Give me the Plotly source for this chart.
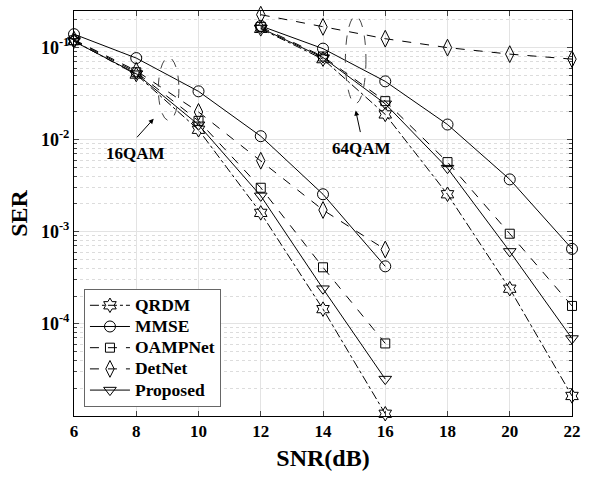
import math
import plotly.graph_objects as go

snr16 = [6, 8, 10, 12, 14, 16]
snr64 = [12, 14, 16, 18, 20, 22]

qrdm16 = [0.118, 0.051, 0.0128, 0.00160, 0.000144, 0.0000105]
mmse16 = [0.140, 0.077, 0.0335, 0.0109, 0.00255, 0.00042]
oamp16 = [0.120, 0.054, 0.0160, 0.00300, 0.00041, 0.000061]
detnet16 = [0.122, 0.056, 0.0200, 0.00590, 0.00172, 0.00064]
prop16 = [0.117, 0.052, 0.0145, 0.00245, 0.00024, 0.000025]

qrdm64 = [0.160, 0.075, 0.0188, 0.00255, 0.00024, 0.0000164]
mmse64 = [0.172, 0.0975, 0.043, 0.0146, 0.0037, 0.00065]
oamp64 = [0.168, 0.080, 0.0262, 0.0057, 0.00095, 0.000156]
detnet64 = [0.228, 0.168, 0.125, 0.100, 0.085, 0.075]
prop64 = [0.163, 0.078, 0.0245, 0.0049, 0.00061, 0.000069]

names = ["QRDM", "MMSE", "OAMPNet", "DetNet", "Proposed"]
ytickvals = [1e-4, 1e-3, 1e-2, 1e-1]
yticktext = ["10<sup>-4</sup>", "10<sup>-3</sup>", "10<sup>-2</sup>", "10<sup>-1</sup>"]
xtickvals = [6, 8, 10, 12, 14, 16, 18, 20, 22]

FONT = "Liberation Serif"
styles = {
    "QRDM": dict(dash="dashdot", symbol="hexagram-open", size=11),
    "MMSE": dict(dash="solid", symbol="circle-open", size=11),
    "OAMPNet": dict(dash="dash", symbol="square-open", size=9),
    "DetNet": dict(dash="dash", symbol="diamond-tall-open", size=12),
    "Proposed": dict(dash="solid", symbol="triangle-down-open", size=11),
}
series = {
    "QRDM": (qrdm16, qrdm64),
    "MMSE": (mmse16, mmse64),
    "OAMPNet": (oamp16, oamp64),
    "DetNet": (detnet16, detnet64),
    "Proposed": (prop16, prop64),
}

fig = go.Figure()
for name in names:
    st = styles[name]
    for i, (xs, ys) in enumerate([(snr16, series[name][0]), (snr64, series[name][1])]):
        fig.add_trace(go.Scatter(
            x=xs, y=ys, mode="lines+markers",
            name='<span style="font-size:17.5px">' + name + "</span>",
            legendgroup=name, showlegend=(i == 0), cliponaxis=False,
            line=dict(color="black", width=1, dash=st["dash"]),
            marker=dict(symbol=st["symbol"], size=st["size"], color="black",
                        line=dict(color="black", width=1)),
        ))

minor_vals = [m * 10 ** e for e in range(-5, 0) for m in range(2, 10)]

fig.update_layout(
    width=591, height=477,
    margin=dict(l=74, r=10, t=10, b=61),
    paper_bgcolor="white", plot_bgcolor="white",
    font=dict(family=FONT, size=17, color="black"),
    legend=dict(x=0.02, y=0.023, xanchor="left", yanchor="bottom",
                bgcolor="white", bordercolor="#666", borderwidth=1,
                font=dict(family=FONT, size=14, color="black", weight="bold"),
                tracegroupgap=0, itemwidth=40),
    showlegend=True,
)
fig.update_xaxes(
    range=[6, 22], tickmode="array", tickvals=xtickvals,
    ticks="inside", ticklen=5, showline=True, linecolor="black", linewidth=1,
    mirror="ticks", showgrid=True, gridcolor="#e3e3e3", gridwidth=1, zeroline=False,
    tickfont=dict(family=FONT, size=17, weight="bold"),
    title=dict(text="SNR(dB)", font=dict(family=FONT, size=24, weight="bold"), standoff=8),
)
fig.update_yaxes(
    type="log", range=[-5.003, math.log10(0.25)],
    tickmode="array", tickvals=ytickvals, ticktext=yticktext,
    ticks="inside", ticklen=5, showline=True, linecolor="black", linewidth=1,
    mirror="allticks", showgrid=True, gridcolor="#e3e3e3", gridwidth=1, zeroline=False,
    tickfont=dict(family=FONT, size=18, weight="bold"),
    title=dict(text="SER", font=dict(family=FONT, size=24, weight="bold"), standoff=6),
    minor=dict(tickmode="array", tickvals=minor_vals, ticks="inside", ticklen=3,
               showgrid=True, gridcolor="#dcdcdc", griddash="dot", gridwidth=1),
)

# ellipses (shape coords in data values on log axis)
fig.add_shape(type="circle", xref="x", yref="y", x0=8.71, x1=9.37, y0=0.0162, y1=0.078,
              line=dict(color="#444", width=1, dash="dash"))
fig.add_shape(type="circle", xref="x", yref="y", x0=14.72, x1=15.38, y0=0.0247, y1=0.22,
              line=dict(color="#444", width=1, dash="dash"))

# arrows and labels (annotation coords in log10 on log axis)
fig.add_annotation(x=8.56, y=-1.773, ax=-18, ay=20, text="", showarrow=True,
                   arrowhead=2, arrowsize=1, arrowwidth=1, arrowcolor="black")
fig.add_annotation(x=7.98, y=-2.151, text="16QAM", showarrow=False,
                   font=dict(family=FONT, size=17, weight="bold"))
fig.add_annotation(x=15.05, y=-1.684, ax=5, ay=23, text="", showarrow=True,
                   arrowhead=2, arrowsize=1, arrowwidth=1, arrowcolor="black")
fig.add_annotation(x=15.24, y=-2.091, text="64QAM", showarrow=False,
                   font=dict(family=FONT, size=17, weight="bold"))

fig.write_html("out.html", config={"displayModeBar": False},
               post_script="document.body.style.margin='0px';")
